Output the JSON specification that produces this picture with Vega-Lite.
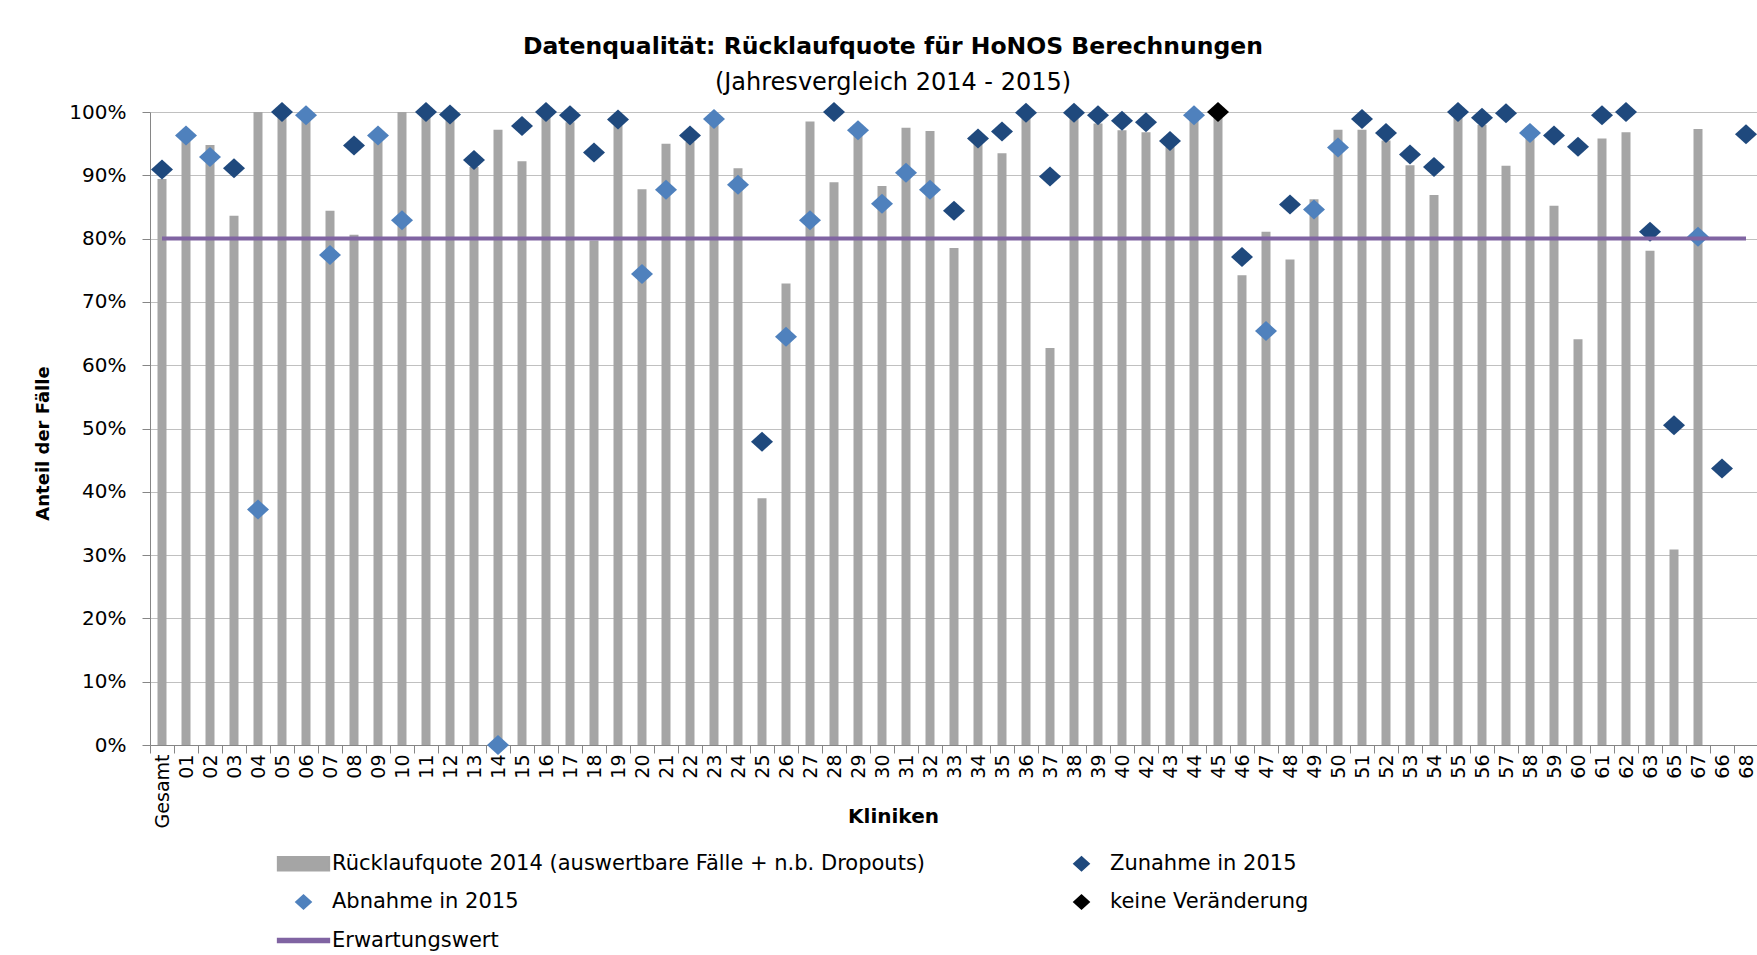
{
  "$schema": "https://vega.github.io/schema/vega-lite/v6.json",
  "width": 1608,
  "height": 633,
  "autosize": {"type": "none"},
  "padding": {"left": 150, "top": 112, "right": 0, "bottom": 210},
  "background": "white",
  "title": {
    "text": "Datenqualität: Rücklaufquote für HoNOS Berechnungen",
    "subtitle": "(Jahresvergleich 2014 - 2015)",
    "anchor": "middle",
    "dx": -61,
    "offset": 7,
    "font": "DejaVu Sans",
    "fontSize": 23.5,
    "fontWeight": "bold",
    "color": "#000000",
    "subtitleFont": "DejaVu Sans",
    "subtitleFontSize": 24,
    "subtitleColor": "#000000",
    "subtitlePadding": 12.5
  },
  "data": {
    "values": [
      {"k": "Gesamt", "v2014": 0.894, "v2015": 0.909, "s": "Zunahme in 2015", "e": 0.8},
      {"k": "01", "v2014": 0.970, "v2015": 0.963, "s": "Abnahme in 2015", "e": 0.8},
      {"k": "02", "v2014": 0.948, "v2015": 0.929, "s": "Abnahme in 2015", "e": 0.8},
      {"k": "03", "v2014": 0.836, "v2015": 0.911, "s": "Zunahme in 2015", "e": 0.8},
      {"k": "04", "v2014": 1.000, "v2015": 0.372, "s": "Abnahme in 2015", "e": 0.8},
      {"k": "05", "v2014": 0.995, "v2015": 1.000, "s": "Zunahme in 2015", "e": 0.8},
      {"k": "06", "v2014": 1.000, "v2015": 0.995, "s": "Abnahme in 2015", "e": 0.8},
      {"k": "07", "v2014": 0.844, "v2015": 0.774, "s": "Abnahme in 2015", "e": 0.8},
      {"k": "08", "v2014": 0.806, "v2015": 0.947, "s": "Zunahme in 2015", "e": 0.8},
      {"k": "09", "v2014": 0.970, "v2015": 0.963, "s": "Abnahme in 2015", "e": 0.8},
      {"k": "10", "v2014": 1.000, "v2015": 0.829, "s": "Abnahme in 2015", "e": 0.8},
      {"k": "11", "v2014": 0.995, "v2015": 1.000, "s": "Zunahme in 2015", "e": 0.8},
      {"k": "12", "v2014": 0.990, "v2015": 0.996, "s": "Zunahme in 2015", "e": 0.8},
      {"k": "13", "v2014": 0.913, "v2015": 0.924, "s": "Zunahme in 2015", "e": 0.8},
      {"k": "14", "v2014": 0.972, "v2015": 0.000, "s": "Abnahme in 2015", "e": 0.8},
      {"k": "15", "v2014": 0.922, "v2015": 0.978, "s": "Zunahme in 2015", "e": 0.8},
      {"k": "16", "v2014": 0.995, "v2015": 1.000, "s": "Zunahme in 2015", "e": 0.8},
      {"k": "17", "v2014": 0.984, "v2015": 0.995, "s": "Zunahme in 2015", "e": 0.8},
      {"k": "18", "v2014": 0.797, "v2015": 0.936, "s": "Zunahme in 2015", "e": 0.8},
      {"k": "19", "v2014": 0.979, "v2015": 0.988, "s": "Zunahme in 2015", "e": 0.8},
      {"k": "20", "v2014": 0.878, "v2015": 0.744, "s": "Abnahme in 2015", "e": 0.8},
      {"k": "21", "v2014": 0.950, "v2015": 0.877, "s": "Abnahme in 2015", "e": 0.8},
      {"k": "22", "v2014": 0.953, "v2015": 0.963, "s": "Zunahme in 2015", "e": 0.8},
      {"k": "23", "v2014": 0.995, "v2015": 0.989, "s": "Abnahme in 2015", "e": 0.8},
      {"k": "24", "v2014": 0.911, "v2015": 0.885, "s": "Abnahme in 2015", "e": 0.8},
      {"k": "25", "v2014": 0.390, "v2015": 0.479, "s": "Zunahme in 2015", "e": 0.8},
      {"k": "26", "v2014": 0.729, "v2015": 0.645, "s": "Abnahme in 2015", "e": 0.8},
      {"k": "27", "v2014": 0.985, "v2015": 0.829, "s": "Abnahme in 2015", "e": 0.8},
      {"k": "28", "v2014": 0.889, "v2015": 1.000, "s": "Zunahme in 2015", "e": 0.8},
      {"k": "29", "v2014": 0.980, "v2015": 0.971, "s": "Abnahme in 2015", "e": 0.8},
      {"k": "30", "v2014": 0.883, "v2015": 0.855, "s": "Abnahme in 2015", "e": 0.8},
      {"k": "31", "v2014": 0.975, "v2015": 0.904, "s": "Abnahme in 2015", "e": 0.8},
      {"k": "32", "v2014": 0.970, "v2015": 0.877, "s": "Abnahme in 2015", "e": 0.8},
      {"k": "33", "v2014": 0.785, "v2015": 0.844, "s": "Zunahme in 2015", "e": 0.8},
      {"k": "34", "v2014": 0.950, "v2015": 0.958, "s": "Zunahme in 2015", "e": 0.8},
      {"k": "35", "v2014": 0.935, "v2015": 0.969, "s": "Zunahme in 2015", "e": 0.8},
      {"k": "36", "v2014": 0.990, "v2015": 0.999, "s": "Zunahme in 2015", "e": 0.8},
      {"k": "37", "v2014": 0.627, "v2015": 0.898, "s": "Zunahme in 2015", "e": 0.8},
      {"k": "38", "v2014": 0.990, "v2015": 0.999, "s": "Zunahme in 2015", "e": 0.8},
      {"k": "39", "v2014": 0.982, "v2015": 0.995, "s": "Zunahme in 2015", "e": 0.8},
      {"k": "40", "v2014": 0.971, "v2015": 0.986, "s": "Zunahme in 2015", "e": 0.8},
      {"k": "42", "v2014": 0.968, "v2015": 0.984, "s": "Zunahme in 2015", "e": 0.8},
      {"k": "43", "v2014": 0.945, "v2015": 0.954, "s": "Zunahme in 2015", "e": 0.8},
      {"k": "44", "v2014": 1.000, "v2015": 0.995, "s": "Abnahme in 2015", "e": 0.8},
      {"k": "45", "v2014": 1.000, "v2015": 1.000, "s": "keine Veränderung", "e": 0.8},
      {"k": "46", "v2014": 0.742, "v2015": 0.771, "s": "Zunahme in 2015", "e": 0.8},
      {"k": "47", "v2014": 0.811, "v2015": 0.654, "s": "Abnahme in 2015", "e": 0.8},
      {"k": "48", "v2014": 0.767, "v2015": 0.854, "s": "Zunahme in 2015", "e": 0.8},
      {"k": "49", "v2014": 0.862, "v2015": 0.846, "s": "Abnahme in 2015", "e": 0.8},
      {"k": "50", "v2014": 0.972, "v2015": 0.944, "s": "Abnahme in 2015", "e": 0.8},
      {"k": "51", "v2014": 0.972, "v2015": 0.989, "s": "Zunahme in 2015", "e": 0.8},
      {"k": "52", "v2014": 0.955, "v2015": 0.967, "s": "Zunahme in 2015", "e": 0.8},
      {"k": "53", "v2014": 0.916, "v2015": 0.933, "s": "Zunahme in 2015", "e": 0.8},
      {"k": "54", "v2014": 0.869, "v2015": 0.913, "s": "Zunahme in 2015", "e": 0.8},
      {"k": "55", "v2014": 0.995, "v2015": 1.000, "s": "Zunahme in 2015", "e": 0.8},
      {"k": "56", "v2014": 0.980, "v2015": 0.991, "s": "Zunahme in 2015", "e": 0.8},
      {"k": "57", "v2014": 0.915, "v2015": 0.998, "s": "Zunahme in 2015", "e": 0.8},
      {"k": "58", "v2014": 0.975, "v2015": 0.967, "s": "Abnahme in 2015", "e": 0.8},
      {"k": "59", "v2014": 0.852, "v2015": 0.963, "s": "Zunahme in 2015", "e": 0.8},
      {"k": "60", "v2014": 0.641, "v2015": 0.945, "s": "Zunahme in 2015", "e": 0.8},
      {"k": "61", "v2014": 0.958, "v2015": 0.995, "s": "Zunahme in 2015", "e": 0.8},
      {"k": "62", "v2014": 0.968, "v2015": 1.000, "s": "Zunahme in 2015", "e": 0.8},
      {"k": "63", "v2014": 0.781, "v2015": 0.811, "s": "Zunahme in 2015", "e": 0.8},
      {"k": "65", "v2014": 0.309, "v2015": 0.505, "s": "Zunahme in 2015", "e": 0.8},
      {"k": "66", "v2014": null, "v2015": 0.437, "s": "Zunahme in 2015", "e": 0.8},
      {"k": "67", "v2014": 0.973, "v2015": 0.803, "s": "Abnahme in 2015", "e": 0.8},
      {"k": "68", "v2014": null, "v2015": 0.965, "s": "Zunahme in 2015", "e": 0.8}
    ]
  },
  "encoding": {
    "x": {
      "field": "k",
      "type": "nominal",
      "sort": null,
      "scale": {"paddingInner": 0, "paddingOuter": 0},
      "axis": {
        "title": "Kliniken",
        "labelAngle": -90,
        "labelFontSize": 19,
        "tickBand": "extent",
        "tickSize": 8,
        "labelPadding": 1,
        "grid": false,
        "titleX": 743,
        "titleY": 71,
        "titleAlign": "center",
        "titleBaseline": "middle",
        "titleFontSize": 20,
        "titleFontWeight": "bold"
      }
    }
  },
  "layer": [
    {
      "mark": {"type": "bar", "size": 9},
      "encoding": {
        "y": {
          "field": "v2014",
          "type": "quantitative",
          "scale": {"domain": [0, 1], "nice": false},
          "axis": {
            "title": "Anteil der Fälle",
            "format": ".0%",
            "values": [0, 0.1, 0.2, 0.3, 0.4, 0.5, 0.6, 0.7, 0.8, 0.9, 1],
            "tickSize": 8,
            "labelPadding": 16,
            "labelFontSize": 20,
            "grid": true,
            "titleAngle": -90,
            "titleX": -107,
            "titleY": 331,
            "titleAlign": "center",
            "titleBaseline": "middle",
            "titleFontSize": 18,
            "titleFontWeight": "bold"
          }
        },
        "color": {"datum": "Rücklaufquote 2014 (auswertbare Fälle + n.b. Dropouts)"}
      }
    },
    {
      "mark": {"type": "point", "filled": true, "size": 400, "opacity": 1},
      "encoding": {
        "y": {"field": "v2015", "type": "quantitative", "axis": {"title": "Anteil der Fälle"}},
        "color": {
          "field": "s",
          "type": "nominal",
          "title": null,
          "scale": {
            "domain": ["Rücklaufquote 2014 (auswertbare Fälle + n.b. Dropouts)", "Abnahme in 2015", "Erwartungswert", "Zunahme in 2015", "keine Veränderung"],
            "range": ["#a5a5a5", "#4f81bd", "#8064a2", "#1f497d", "#000000"]
          }
        },
        "shape": {
          "field": "s",
          "type": "nominal",
          "title": null,
          "scale": {
            "domain": ["Rücklaufquote 2014 (auswertbare Fälle + n.b. Dropouts)", "Abnahme in 2015", "Erwartungswert", "Zunahme in 2015", "keine Veränderung"],
            "range": ["M-3.7,-1H3.7V1H-3.7Z", "M-1.1,0L0,-1L1.1,0L0,1Z", "M-3.7,-0.3H3.7V0.3H-3.7Z", "M-1.1,0L0,-1L1.1,0L0,1Z", "M-1.1,0L0,-1L1.1,0L0,1Z"]
          }
        }
      }
    },
    {
      "mark": {"type": "line", "strokeWidth": 4},
      "encoding": {
        "y": {"field": "e", "type": "quantitative", "axis": {"title": "Anteil der Fälle"}},
        "color": {"datum": "Erwartungswert"}
      }
    }
  ],
  "config": {
    "font": "DejaVu Sans",
    "view": {"stroke": null},
    "axis": {
      "labelFont": "DejaVu Sans",
      "titleFont": "DejaVu Sans",
      "labelColor": "#000000",
      "titleColor": "#000000",
      "domainColor": "#868686",
      "tickColor": "#868686",
      "gridColor": "#c0c0c0",
      "domainWidth": 1,
      "gridWidth": 1
    },
    "legend": {
      "title": null,
      "orient": "none",
      "legendX": 143,
      "legendY": 741,
      "columns": 2,
      "gridAlign": "all",
      "columnPadding": 144,
      "rowPadding": 16.5,
      "symbolSize": 196,
      "labelFontSize": 21,
      "labelOffset": 18,
      "padding": 0,
      "labelFont": "DejaVu Sans",
      "labelColor": "#000000",
      "labelLimit": 0
    }
  }
}
